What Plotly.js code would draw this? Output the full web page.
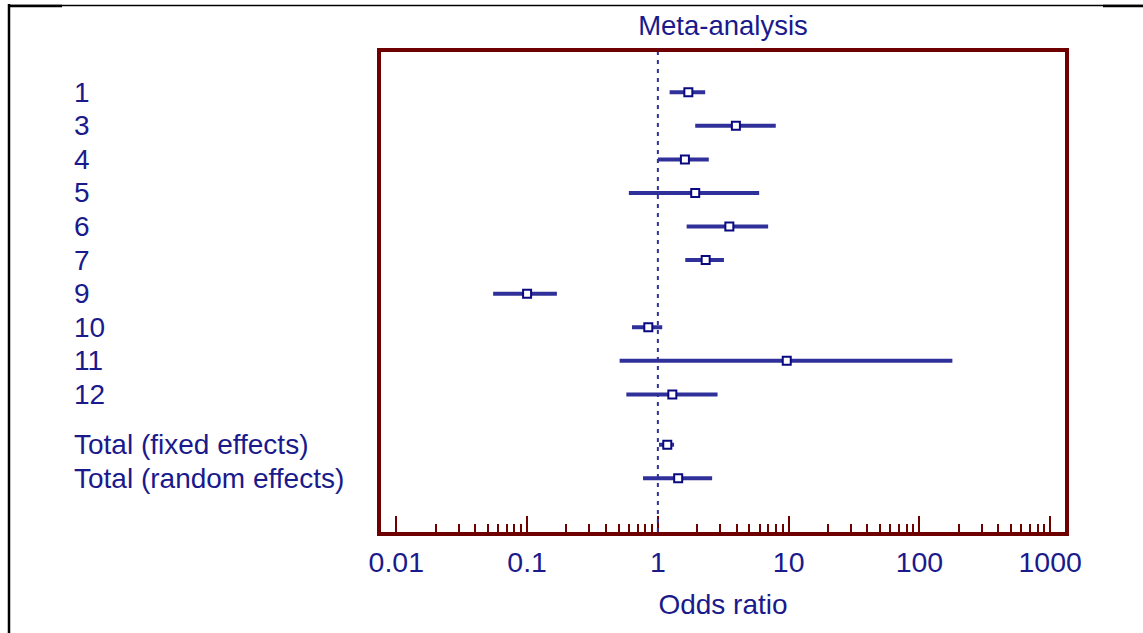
<!DOCTYPE html>
<html>
<head>
<meta charset="utf-8">
<script src="https://cdn.plot.ly/plotly-3.0.1.min.js"></script>
<style>html,body{margin:0;padding:0;background:#fff;}#chart{width:1143px;height:633px;}</style>
</head>
<body>
<div id="chart"></div>
<script>
// ---- data ----
const studyLabels = ['1','3','4','5','6','7','9','10','11','12'];
const studyOR = [1.71, 3.95, 1.61, 1.93, 3.52, 2.32, 0.100, 0.845, 9.67, 1.29];
const studyLo = [1.23, 1.93, 1.00, 0.60, 1.66, 1.62, 0.055, 0.634, 0.51, 0.574];
const studyHi = [2.30, 7.97, 2.45, 5.95, 6.97, 3.20, 0.169, 1.08, 178.6, 2.86];

const totalLabels = ['Total (fixed effects)', 'Total (random effects)'];
const totalOR = [1.18, 1.43];
const totalLo = [1.02, 0.77];
const totalHi = [1.33, 2.60];

const tickVals = [0.01, 0.1, 1, 10, 100, 1000];
const tickText = ['0.01', '0.1', '1', '10', '100', '1000'];

// ---- build ----
const labels = studyLabels.concat(totalLabels);
const ors = studyOR.concat(totalOR);
const los = studyLo.concat(totalLo);
const his = studyHi.concat(totalHi);
const rows = labels.map((_, i) => i < studyLabels.length ? i : i + 0.5);

// minor ticks 2..9 within each decade shown
const minorVals = [];
for (let d = 0; d < tickVals.length - 1; d++) {
  for (let k = 2; k <= 9; k++) minorVals.push(k * tickVals[d]);
}

const W = 1143, H = 633;
const M = {l: 381, r: 78, t: 52, b: 101};
const pw = W - M.l - M.r, ph = H - M.t - M.b;
const px = x => (x - M.l) / pw;
const py = y => 1 - (y - M.t) / ph;

const TXT = '#1a1a8c';
const LINE = '#30309a';
const SQ = '#0a0a80';
const FRAME = '#6e0000';
const FONT = 'Liberation Sans, Arial, sans-serif';

const trace = {
  type: 'scatter', mode: 'markers',
  x: ors, y: rows,
  error_x: {
    type: 'data', symmetric: false,
    array: ors.map((v, i) => his[i] - v),
    arrayminus: ors.map((v, i) => v - los[i]),
    color: LINE, thickness: 4, width: 0
  },
  marker: {symbol: 'square', size: 8, color: '#ffffff', line: {color: SQ, width: 2}},
  hoverinfo: 'skip', showlegend: false
};

const annotations = labels.map((t, i) => ({
  text: t, xref: 'paper', yref: 'y', x: px(72), y: rows[i],
  xanchor: 'left', yanchor: 'middle', showarrow: false,
  font: {family: FONT, size: 28, color: TXT}
}));

const shapes = [
  {type: 'line', xref: 'x', yref: 'paper', x0: 1, x1: 1, y0: 0, y1: 1,
   line: {color: LINE, width: 2, dash: '4px,5px'}, layer: 'above'},
  // outer border of the figure
  {type: 'line', xref: 'paper', yref: 'paper', x0: px(9), x1: px(9), y0: py(4), y1: py(640),
   line: {color: '#000', width: 2.5}},
  {type: 'line', xref: 'paper', yref: 'paper', x0: px(8), x1: px(1143), y0: py(5.5), y1: py(5.5),
   line: {color: '#000', width: 1.3}},
  {type: 'line', xref: 'paper', yref: 'paper', x0: px(8), x1: px(62), y0: py(6), y1: py(6),
   line: {color: '#000', width: 2.5}},
  {type: 'line', xref: 'paper', yref: 'paper', x0: px(1103), x1: px(1143), y0: py(6), y1: py(6),
   line: {color: '#000', width: 2.5}}
];

const layout = {
  width: W, height: H,
  margin: M,
  paper_bgcolor: '#fff', plot_bgcolor: '#fff',
  font: {family: FONT, color: TXT},
  title: {text: 'Meta-analysis', font: {family: FONT, size: 27.5, color: TXT},
          x: 0.5, xref: 'paper', xanchor: 'center', y: 1 - 25 / H, yref: 'container', yanchor: 'middle'},
  xaxis: {
    type: 'log', range: [-2.117, 3.113],
    tickmode: 'array', tickvals: tickVals, ticktext: tickText,
    ticks: 'inside', ticklen: 16, tickwidth: 2, tickcolor: FRAME,
    minor: {ticks: 'inside', ticklen: 8, tickwidth: 2, tickcolor: FRAME, tickmode: 'array', tickvals: minorVals, showgrid: false},
    showline: true, linecolor: FRAME, linewidth: 4, mirror: true,
    showgrid: false, zeroline: false,
    tickfont: {family: FONT, size: 28.5, color: TXT},
    ticklabelstandoff: 2,
    title: {text: 'Odds ratio', font: {family: FONT, size: 28, color: TXT}, standoff: 18},
    fixedrange: true
  },
  yaxis: {
    range: [13.10, -1.20],
    showticklabels: false, ticks: '', showgrid: false, zeroline: false,
    showline: true, linecolor: FRAME, linewidth: 4, mirror: true,
    fixedrange: true
  },
  annotations: annotations,
  shapes: shapes,
  hovermode: false
};

Plotly.newPlot('chart', [trace], layout, {displayModeBar: false, staticPlot: true});
</script>
</body>
</html>
